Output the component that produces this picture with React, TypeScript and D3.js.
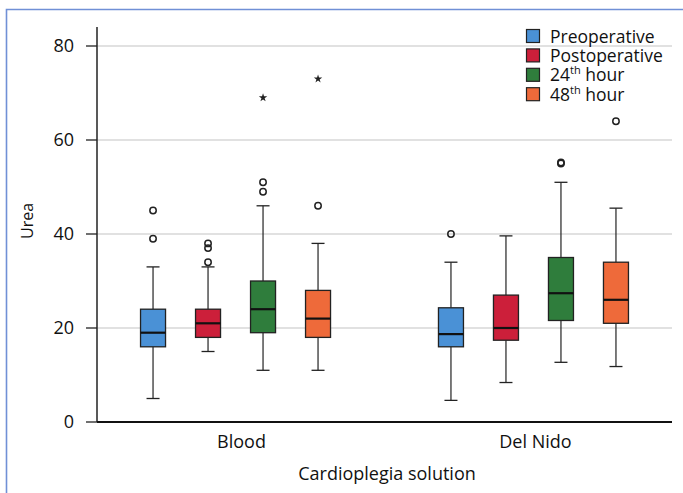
import React from "react";
import * as d3 from "d3";

const groups = ["Blood", "Del Nido"];
const seriesNames = ["Preoperative", "Postoperative", "24th hour", "48th hour"];
const seriesColors = ["#4a91d6", "#cc1f3a", "#2f7d3c", "#ee6a3a"];
const yTicks = [0, 20, 40, 60, 80];

// [whiskerLow, q1, median, q3, whiskerHigh] per group, per series
const bloodStats = [
  [5, 16, 19, 24, 33],
  [15, 18, 21, 24, 33],
  [11, 19, 24, 30, 46],
  [11, 18, 22, 28, 38],
];
const delNidoStats = [
  [4.6, 16, 18.7, 24.3, 34],
  [8.4, 17.4, 20, 27, 39.6],
  [12.7, 21.6, 27.4, 35, 51],
  [11.8, 21, 26, 34, 45.5],
];
const bloodOutliers = [[39, 45], [34, 37, 38], [49, 51], [46]];
const delNidoOutliers = [[40], [], [55, 55.2], [64]];
const bloodExtremes = [[], [], [69], [73]];
const delNidoExtremes = [[], [], [], []];

const statsByGroup = [bloodStats, delNidoStats];
const outliersByGroup = [bloodOutliers, delNidoOutliers];
const extremesByGroup = [bloodExtremes, delNidoExtremes];

const W = 683;
const H = 493;
const left = 97;
const right = 672;
const FONT = "'Open Sans', sans-serif";

export default function App() {
  const y = d3.scaleLinear().domain([0, 80]).range([422, 46]);
  const x = d3
    .scaleBand<string>()
    .domain(groups)
    .range([left, right])
    .paddingInner(0.07)
    .paddingOuter(0);
  const inner = d3.scaleBand<string>().domain(seriesNames).range([-110, 110]);
  const boxW = 25;
  const capW = 13;

  return (
    <svg
      width={W}
      height={H}
      style={{ position: "absolute", left: 0, top: 0, background: "#fff" }}
      fontFamily={FONT}
    >
      <rect x={0} y={0} width={W} height={H} fill="#fff" />
      {/* frame */}
      <path d={`M6.5,${H} V9.5 H${W}`} fill="none" stroke="#7090d6" strokeWidth={1.6} />

      {/* gridlines */}
      {yTicks
        .filter((t) => t > 0)
        .map((t) => (
          <line key={t} x1={left} x2={right} y1={y(t)} y2={y(t)} stroke="#c4c4c4" strokeWidth={1.2} />
        ))}

      {/* y axis */}
      <line x1={left} x2={left} y1={27} y2={y(0)} stroke="#222" strokeWidth={1.5} />
      {yTicks.map((t) => (
        <g key={t}>
          <line x1={86} x2={left} y1={y(t)} y2={y(t)} stroke="#222" strokeWidth={1.3} />
          <text x={74} y={y(t)} dy="0.36em" textAnchor="end" fontSize={18} fill="#111">
            {t}
          </text>
        </g>
      ))}
      <text
        transform={`translate(33,${221}) rotate(-90)`}
        textAnchor="middle"
        fontSize={16}
        fill="#111"
      >
        Urea
      </text>

      {/* x axis */}
      <line x1={left} x2={right} y1={y(0)} y2={y(0)} stroke="#111" strokeWidth={1.8} />
      {groups.map((g, i) => (
        <text
          key={g}
          x={(x(g) as number) + x.bandwidth() / 2 + (i === 0 ? 6 : 2)}
          y={448}
          textAnchor="middle"
          fontSize={18}
          fill="#111"
        >
          {g}
        </text>
      ))}
      <text x={387} y={480} textAnchor="middle" fontSize={18} fill="#111">
        Cardioplegia solution
      </text>

      {/* boxes */}
      {groups.map((g, gi) => {
        const gc = (x(g) as number) + x.bandwidth() / 2;
        return seriesNames.map((s, si) => {
          const cx = gc + (inner(s) as number) + inner.bandwidth() / 2;
          const [lo, q1, med, q3, hi] = statsByGroup[gi][si];
          return (
            <g key={g + s}>
              <line x1={cx} x2={cx} y1={y(hi)} y2={y(q3)} stroke="#222" strokeWidth={1.2} />
              <line x1={cx} x2={cx} y1={y(q1)} y2={y(lo)} stroke="#222" strokeWidth={1.2} />
              <line x1={cx - capW / 2} x2={cx + capW / 2} y1={y(hi)} y2={y(hi)} stroke="#222" strokeWidth={1.3} />
              <line x1={cx - capW / 2} x2={cx + capW / 2} y1={y(lo)} y2={y(lo)} stroke="#222" strokeWidth={1.3} />
              <rect
                x={cx - boxW / 2}
                y={y(q3)}
                width={boxW}
                height={y(q1) - y(q3)}
                fill={seriesColors[si]}
                stroke="#222"
                strokeWidth={1.3}
              />
              <line x1={cx - boxW / 2} x2={cx + boxW / 2} y1={y(med)} y2={y(med)} stroke="#111" strokeWidth={2.2} />
              {outliersByGroup[gi][si].map((v, k) => (
                <circle key={k} cx={cx} cy={y(v)} r={3.2} fill="none" stroke="#222" strokeWidth={1.5} />
              ))}
              {extremesByGroup[gi][si].map((v, k) => (
                <path
                  key={k}
                  transform={`translate(${cx},${y(v)})`}
                  d={d3.symbol(d3.symbolStar, 22)() as string}
                  fill="#222"
                />
              ))}
            </g>
          );
        });
      })}

      {/* legend */}
      {seriesNames.map((s, i) => {
        const ly = 29.5 + i * 19.4;
        const m = s.match(/^(\d+)(th)( .*)$/);
        return (
          <g key={s}>
            <rect x={526.5} y={ly} width={13} height={13} fill={seriesColors[i]} stroke="#222" strokeWidth={1.2} />
            <text x={550} y={ly + 13} fontSize={17.5} fill="#111">
              {m ? (
                <>
                  {m[1]}
                  <tspan fontSize={11} dy={-7}>
                    {m[2]}
                  </tspan>
                  <tspan dy={7}>{m[3]}</tspan>
                </>
              ) : (
                s
              )}
            </text>
          </g>
        );
      })}
    </svg>
  );
}
